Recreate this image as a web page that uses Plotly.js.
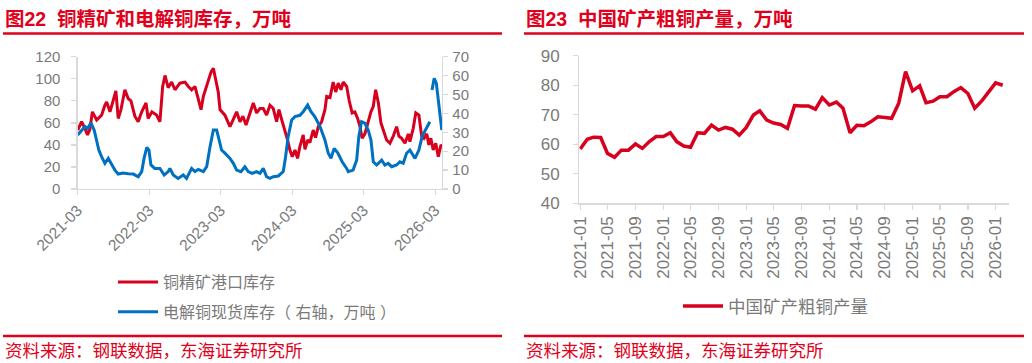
<!DOCTYPE html>
<html>
<head>
<meta charset="utf-8">
<script src="https://cdn.plot.ly/plotly-3.0.1.min.js"></script>
<style>
html,body{margin:0;padding:0;background:#fff;}
#chart{width:1032px;height:363px;}
</style>
</head>
<body>
<div id="chart"></div>
<script>
// ---- Left chart: 铜精矿港口库存 (left axis, 万吨) ----
const portDates = ['2021-03-01','2021-03-21','2021-04-07','2021-04-20','2021-05-02','2021-05-15','2021-06-06','2021-07-01','2021-07-18','2021-07-27','2021-08-13','2021-08-28','2021-09-12','2021-09-24','2021-10-08','2021-10-28','2021-11-14','2021-11-28','2021-12-18','2022-01-04','2022-01-22','2022-02-13','2022-02-24','2022-03-15','2022-04-08','2022-04-25','2022-05-09','2022-05-21','2022-06-06','2022-06-24','2022-07-11','2022-08-05','2022-08-31','2022-09-17','2022-10-04','2022-10-21','2022-11-07','2022-11-21','2022-12-03','2022-12-20','2023-01-01','2023-01-11','2023-01-23','2023-02-04','2023-02-17','2023-02-26','2023-03-23','2023-04-18','2023-05-05','2023-05-22','2023-06-08','2023-06-23','2023-07-09','2023-07-29','2023-08-15','2023-09-01','2023-09-18','2023-10-05','2023-10-22','2023-11-08','2023-11-25','2023-12-12','2023-12-24','2024-01-07','2024-01-24','2024-02-06','2024-02-18','2024-03-01','2024-03-15','2024-03-28','2024-04-09','2024-04-26','2024-05-05','2024-05-19','2024-05-30','2024-06-16','2024-06-28','2024-07-12','2024-07-29','2024-08-15','2024-08-24','2024-09-10','2024-09-26','2024-10-09','2024-10-22','2024-11-05','2024-11-16','2024-12-04','2024-12-17','2025-01-01','2025-01-15','2025-01-29','2025-02-10','2025-02-21','2025-03-07','2025-03-24','2025-04-07','2025-04-19','2025-05-01','2025-05-15','2025-05-28','2025-06-09','2025-06-26','2025-07-13','2025-07-30','2025-08-16','2025-08-28','2025-09-11','2025-09-28','2025-10-15','2025-10-23','2025-11-09','2025-11-22','2025-12-08','2025-12-22','2026-01-03','2026-01-17','2026-01-28','2026-02-07','2026-02-19','2026-03-04','2026-03-17','2026-03-31','2026-04-06'];
const portValues = [53.5,61,55,49,54,70,62.6,67,76,79,70,80,89,64,72,90,82,80,66,61,70,78,64,70,67,61,93,103,92,97,90,96,97,93,90,93,82,72,84,93,100,106,109.5,99,88,72,67,56.5,64,70,61,66,58,69,78,69,73,73,67,76,73,61,72,63,53.5,44.5,35.4,29.3,35.4,27.8,38.4,49,36,44.5,42,53.5,46.6,56.5,61,72,84,83,97,88,96,90,97,93,80,69,70,64,56.5,46,50,61,70,75,90,78,60,53.5,44.5,41.5,48,56.5,48,46,41.5,50,43,55,69,67,48,46,50,40,46,35.4,41.5,29.3,40,38.4];

// ---- Left chart: 电解铜现货库存 (right axis, 万吨) ----
const cathDates = ['2021-03-01','2021-03-21','2021-04-07','2021-04-20','2021-05-08','2021-05-24','2021-06-06','2021-06-17','2021-07-01','2021-07-18','2021-08-04','2021-08-21','2021-09-07','2021-09-24','2021-10-19','2021-11-14','2021-12-10','2022-01-04','2022-01-22','2022-02-03','2022-02-17','2022-02-28','2022-03-10','2022-03-30','2022-04-25','2022-05-17','2022-06-06','2022-06-15','2022-07-02','2022-07-27','2022-08-22','2022-09-08','2022-10-04','2022-10-21','2022-11-07','2022-12-03','2022-12-20','2023-01-06','2023-01-23','2023-02-09','2023-02-21','2023-03-06','2023-03-23','2023-04-18','2023-05-05','2023-05-22','2023-06-13','2023-07-03','2023-07-20','2023-08-09','2023-09-01','2023-09-18','2023-10-05','2023-10-22','2023-11-08','2023-11-25','2023-12-21','2024-01-15','2024-01-27','2024-02-09','2024-02-27','2024-03-15','2024-04-09','2024-04-26','2024-05-19','2024-06-04','2024-06-24','2024-07-21','2024-08-15','2024-09-01','2024-09-15','2024-10-01','2024-10-20','2024-11-11','2024-12-04','2024-12-12','2025-01-06','2025-01-24','2025-02-04','2025-02-18','2025-03-07','2025-03-24','2025-04-07','2025-04-19','2025-05-06','2025-06-01','2025-06-17','2025-07-04','2025-07-22','2025-08-16','2025-09-02','2025-09-19','2025-10-06','2025-10-23','2025-11-18','2025-12-08','2025-12-25','2026-01-17','2026-02-02','2026-02-07','2026-02-13','2026-02-24','2026-03-07','2026-03-21','2026-04-04'];
const cathValues = [28.6,31.2,33,32,35,31.2,25.9,20.6,17.1,13.6,16.2,12.7,10,7.9,8.5,8.1,7.9,6.5,9.2,16.2,22,20.6,12.7,10.9,10.9,7.4,9.2,10.9,7.4,5.6,7.4,5.6,10.9,9.2,10.4,9.2,11.8,22.4,31.2,31.2,25.9,20.6,19,16.2,13.6,10,9.2,11.8,9.2,8.3,9.2,8.3,10.9,6.5,5.6,6.5,6.9,9.2,17.1,27.7,36.5,38.3,39,40.9,44.4,41,38.3,33,25.9,18.9,16.2,21.5,19,14.4,10.9,9.2,10,15.3,27.7,35.6,34.8,31.2,25.9,14.4,12.7,15.3,12.7,13.6,11.8,12.7,14.4,13.6,18.9,20.6,16.2,20.6,28,32.1,35.6,null,52.4,58.6,56,43.5,31.2];

const leftTicks = ['2021-03-01','2022-03-01','2023-03-01','2024-03-01','2025-03-01','2026-03-01'];
const leftTickText = ['2021-03','2022-03','2023-03','2024-03','2025-03','2026-03'];

// ---- Right chart: 中国矿产粗铜产量 (万吨) ----
const prodMonths = ['2021-01','2021-02','2021-03','2021-04','2021-05','2021-06','2021-07','2021-08','2021-09','2021-10','2021-11','2021-12',
'2022-01','2022-02','2022-03','2022-04','2022-05','2022-06','2022-07','2022-08','2022-09','2022-10','2022-11','2022-12',
'2023-01','2023-02','2023-03','2023-04','2023-05','2023-06','2023-07','2023-08','2023-09','2023-10','2023-11','2023-12',
'2024-01','2024-02','2024-03','2024-04','2024-05','2024-06','2024-07','2024-08','2024-09','2024-10','2024-11','2024-12',
'2025-01','2025-02','2025-03','2025-04','2025-05','2025-06','2025-07','2025-08','2025-09','2025-10','2025-11','2025-12',
'2026-01','2026-02'];
const prodValues = [58.4,61.7,62.4,62.3,56.9,55.6,58.0,58.0,60.1,58.6,60.9,62.6,
62.6,63.9,60.9,59.4,59.0,63.9,63.7,66.5,64.8,65.7,65.1,63.1,
65.7,69.9,71.3,68.2,67.2,66.7,65.4,73.1,73.0,73.0,71.9,75.8,
73.3,74.3,72.2,63.9,66.4,66.3,67.6,69.3,69.1,68.8,73.9,84.6,
78.1,79.8,74.1,74.6,76.1,76.1,77.8,79.2,77.2,72.2,74.7,77.8,
80.8,80.0];
const rightTicks = ['2021-01','2021-05','2021-09','2022-01','2022-05','2022-09','2023-01','2023-05','2023-09','2024-01','2024-05','2024-09','2025-01','2025-05','2025-09','2026-01'];

const RED = '#D7001E';
const TRED = '#E0001B';
const BLUE = '#0070C0';
const GREY = '#7a7a7a';
const AX = '#d9d9d9';
const F = '"Liberation Sans", Arial, "Noto Sans CJK SC", sans-serif';
const W = 1032, H = 363;
const px = v => v / W;
const py = v => 1 - v / H;

const traces = [
  {x: portDates, y: portValues, type: 'scatter', mode: 'lines', name: '铜精矿港口库存',
   line: {color: RED, width: 3}, xaxis: 'x', yaxis: 'y', legend: 'legend', legendgroup: 'a'},
  {x: cathDates, y: cathValues, type: 'scatter', mode: 'lines', name: '电解铜现货库存（ 右轴，万吨 ）',
   line: {color: BLUE, width: 3}, xaxis: 'x', yaxis: 'y2', legend: 'legend', legendgroup: 'b', connectgaps: false},
  {x: prodMonths, y: prodValues, type: 'scatter', mode: 'lines', name: '中国矿产粗铜产量',
   line: {color: RED, width: 3.5}, xaxis: 'x2', yaxis: 'y3', legend: 'legend2'}
];

const axBase = {showline: true, linecolor: AX, linewidth: 1.3, ticks: 'outside', ticklen: 5, tickcolor: AX, tickwidth: 1.3,
  showgrid: false, zeroline: false, fixedrange: true, tickfont: {family: F, size: 15, color: GREY}};

const layout = {
  width: W, height: H, margin: {l: 0, r: 0, t: 0, b: 0},
  paper_bgcolor: '#fff', plot_bgcolor: '#fff',
  font: {family: F, color: GREY, size: 15},
  showlegend: true,
  xaxis: Object.assign({}, axBase, {domain: [px(77.7), px(442)], anchor: 'y', type: 'date',
    range: ['2021-03-01', '2026-04-05'], tickvals: leftTicks, ticktext: leftTickText, tickangle: -45,
    tickfont: {family: F, size: 15.5, color: GREY}}),
  yaxis: Object.assign({}, axBase, {domain: [py(189), py(56.7)], anchor: 'x', range: [0, 120], dtick: 20,
    ticklabelstandoff: 8}),
  yaxis2: Object.assign({}, axBase, {overlaying: 'y', side: 'right', anchor: 'x', range: [0, 70], dtick: 10,
    ticklabelstandoff: 1}),
  xaxis2: Object.assign({}, axBase, {domain: [px(579.3), px(1009.3)], anchor: 'y3', type: 'date',
    range: ['2020-12-28', '2026-03-02'], tickvals: rightTicks, tickformat: '%Y-%m', tickangle: -90,
    tickfont: {family: F, size: 17, color: GREY}}),
  yaxis3: Object.assign({}, axBase, {domain: [py(203.3), py(55.7)], anchor: 'x2', range: [40, 90], dtick: 10,
    ticklabelstandoff: 10, tickfont: {family: F, size: 17, color: GREY}}),
  legend: {x: px(113), y: py(265), xanchor: 'left', yanchor: 'top', orientation: 'v',
    font: {family: F, size: 16, color: GREY}, itemwidth: 40, traceorder: 'grouped', tracegroupgap: 6,
    bgcolor: 'rgba(0,0,0,0)'},
  legend2: {x: px(678), y: py(288), xanchor: 'left', yanchor: 'top', orientation: 'h',
    font: {family: F, size: 17.5, color: GREY}, itemwidth: 40, bgcolor: 'rgba(0,0,0,0)'},
  shapes: [
    {type: 'line', xref: 'paper', yref: 'paper', x0: px(3), x1: px(502), y0: py(33.5), y1: py(33.5), line: {color: TRED, width: 2.5}},
    {type: 'line', xref: 'paper', yref: 'paper', x0: px(524), x1: px(1024), y0: py(33.5), y1: py(33.5), line: {color: TRED, width: 2.5}},
    {type: 'line', xref: 'paper', yref: 'paper', x0: px(3), x1: px(502), y0: py(336), y1: py(336), line: {color: TRED, width: 2.5}},
    {type: 'line', xref: 'paper', yref: 'paper', x0: px(524), x1: px(1024), y0: py(336), y1: py(336), line: {color: TRED, width: 2.5}}
  ],
  annotations: [
    {text: '<b>图22  铜精矿和电解铜库存，万吨</b>', xref: 'paper', yref: 'paper', x: px(3), y: py(18.5), xanchor: 'left', yanchor: 'middle',
     showarrow: false, font: {family: F, size: 19.5, color: TRED}},
    {text: '<b>图23  中国矿产粗铜产量，万吨</b>', xref: 'paper', yref: 'paper', x: px(524), y: py(18.5), xanchor: 'left', yanchor: 'middle',
     showarrow: false, font: {family: F, size: 19.5, color: TRED}},
    {text: '资料来源：钢联数据，东海证券研究所', xref: 'paper', yref: 'paper', x: px(3), y: py(350.5), xanchor: 'left', yanchor: 'middle',
     showarrow: false, font: {family: F, size: 17.5, color: TRED}},
    {text: '资料来源：钢联数据，东海证券研究所', xref: 'paper', yref: 'paper', x: px(524), y: py(350.5), xanchor: 'left', yanchor: 'middle',
     showarrow: false, font: {family: F, size: 17.5, color: TRED}}
  ]
};

Plotly.newPlot('chart', traces, layout, {displayModeBar: false, staticPlot: true});
</script>
</body>
</html>
